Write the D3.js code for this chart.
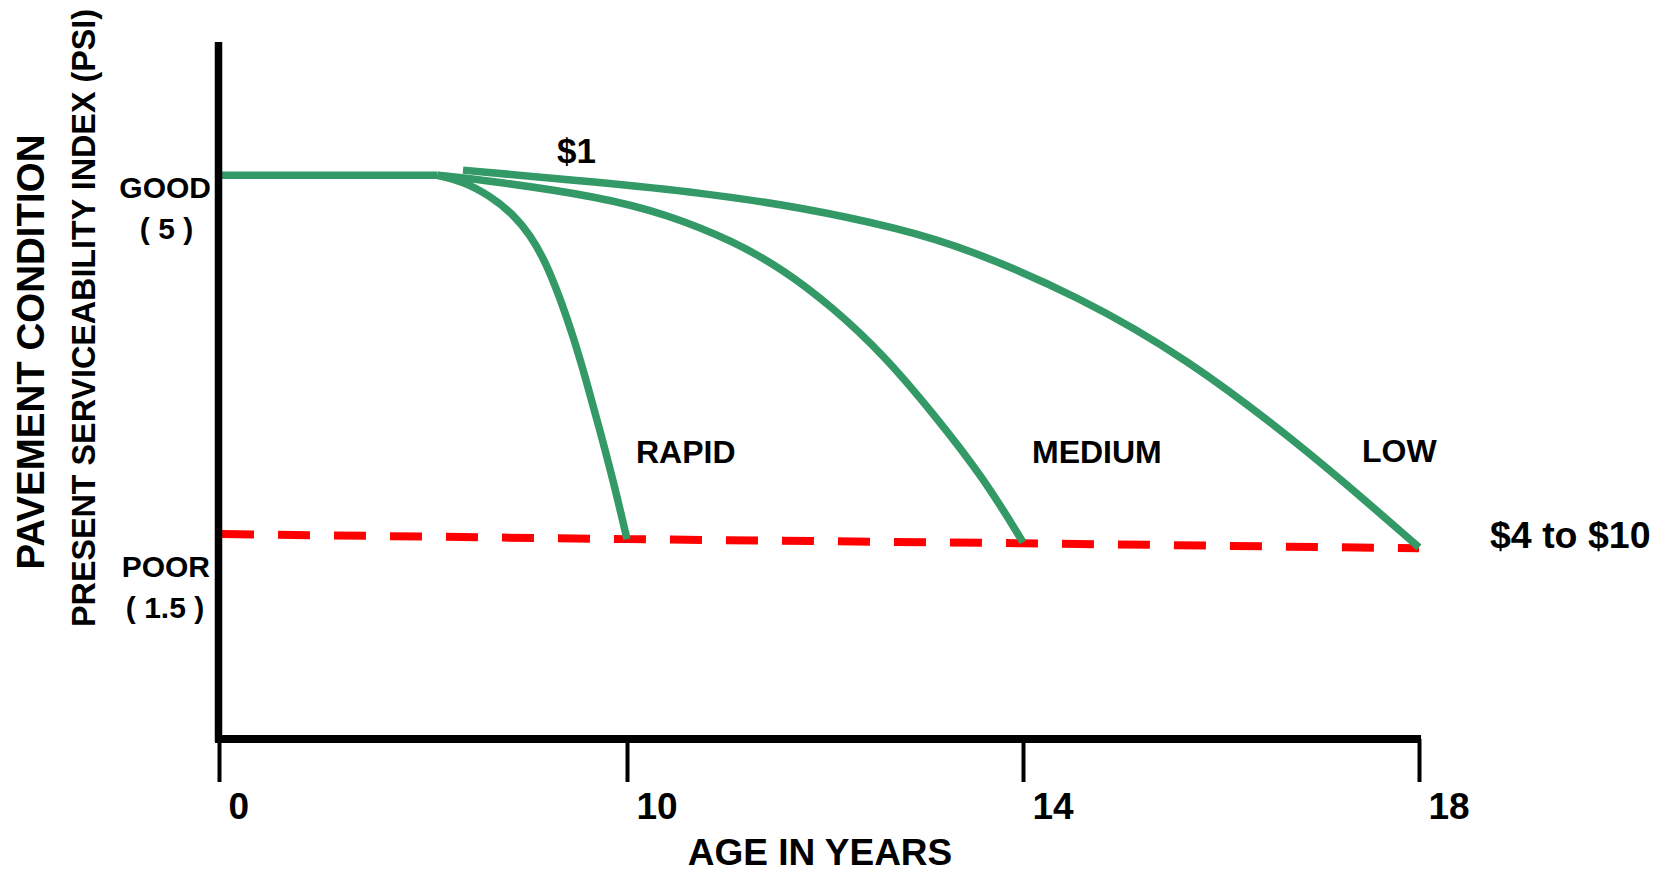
<!DOCTYPE html>
<html>
<head>
<meta charset="utf-8">
<script src="https://cdn.jsdelivr.net/npm/d3@7"></script>
<style>
  html, body { margin: 0; padding: 0; background: #ffffff; }
  svg { display: block; }
  text { font-family: "Liberation Sans", Arial, Helvetica, sans-serif; font-weight: bold; fill: #000; }
</style>
</head>
<body>
<svg id="chart" width="1669" height="873"></svg>
<script>
// Pavement deterioration: PSI vs. age, for three rates of deterioration.
const tickYears  = [0, 10, 14, 18];
const tickLabels = ["0", "10", "14", "18"];

// New pavement holds its condition before deteriorating
const flatYears = [0, 5.35];
const flatPSI   = [5.0, 5.0];

const rapidYears = [5.35, 5.98, 6.64, 7.21, 7.62, 8.00, 8.36, 8.68, 9.00, 9.33, 9.70, 10.0];
const rapidPSI   = [5.00, 4.94, 4.80, 4.62, 4.42, 4.16, 3.80, 3.43, 3.00, 2.52, 1.96, 1.45];

const mediumYears = [5.35, 6.57, 9.34, 10.40, 11.07, 11.58, 12.08, 12.59, 13.09, 13.60, 14.0];
const mediumPSI   = [5.00, 4.95, 4.79, 4.62, 4.36, 4.08, 3.71, 3.25, 2.68, 2.05, 1.42];

const lowYears = [5.98, 9.34, 10.74, 11.75, 12.76, 13.45, 14.56, 15.66, 16.76, 17.49, 18.0];
const lowPSI   = [5.05, 4.93, 4.83, 4.69, 4.48, 4.28, 3.82, 3.21, 2.40, 1.80, 1.37];

// Terminal serviceability (POOR) threshold
const poorYears = [0, 10, 14, 18];
const poorPSI   = [1.50, 1.45, 1.41, 1.36];

const conditionLabels = ["GOOD", "( 5 )", "POOR", "( 1.5 )"];
const rateLabels = ["RAPID", "MEDIUM", "LOW"];
const costLabels = ["$1", "$4 to $10"];
const xTitle = "AGE IN YEARS";
const yTitle1 = "PAVEMENT CONDITION";
const yTitle2 = "PRESENT SERVICEABILITY INDEX (PSI)";

const GREEN = "#339966";
const RED = "#ff0000";

const svg = d3.select("#chart");

// Age axis is compressed over the first 10 years
const x = d3.scaleLinear().domain(tickYears).range([219, 627, 1023, 1419]);
const y = d3.scaleLinear().domain([-0.5, 6.3]).range([739, 42]);

const zip = (xs, ys) => xs.map((v, i) => [v, ys[i]]);
const line = d3.line().x(d => x(d[0])).y(d => y(d[1])).curve(d3.curveBasis);
const straight = d3.line().x(d => x(d[0])).y(d => y(d[1]));

// Threshold line (dashed)
svg.append("path")
  .attr("d", straight(zip(poorYears, poorPSI)))
  .attr("fill", "none")
  .attr("stroke", RED)
  .attr("stroke-width", 8)
  .attr("stroke-dasharray", "32 24")
  .attr("stroke-dashoffset", 53);

// Deterioration curves
const curves = [zip(flatYears, flatPSI), zip(rapidYears, rapidPSI), zip(mediumYears, mediumPSI), zip(lowYears, lowPSI)];
svg.selectAll("path.curve").data(curves).enter().append("path")
  .attr("class", "curve")
  .attr("d", line)
  .attr("fill", "none")
  .attr("stroke", GREEN)
  .attr("stroke-width", 7.5)
  .attr("stroke-linejoin", "round");

// Axes
const xAxis = d3.axisBottom(x)
  .tickValues(tickYears)
  .tickFormat((d, i) => tickLabels[i])
  .tickSize(43)
  .tickSizeOuter(0)
  .tickPadding(0);

const gx = svg.append("g").attr("transform", `translate(0,${y(-0.5)})`).call(xAxis);
gx.select(".domain").attr("stroke", "#000").attr("stroke-width", 8)
  .attr("d", `M${x(0) - 4},0H${x(18) + 2}`);
gx.selectAll(".tick line").attr("stroke", "#000").attr("stroke-width", 4);
gx.selectAll(".tick text")
  .attr("text-anchor", "start")
  .attr("x", 9)
  .attr("y", 80)
  .attr("dy", null)
  .style("font-size", "37px")
  .style("font-family", "'Liberation Sans', Arial, sans-serif")
  .style("font-weight", "bold")
  .attr("fill", "#000");

const yAxis = d3.axisLeft(y).tickValues([]).tickSizeOuter(0);
const gy = svg.append("g").attr("transform", `translate(${x(0) - 0.5},0)`).call(yAxis);
gy.select(".domain").attr("stroke", "#000").attr("stroke-width", 7.5)
  .attr("d", `M0,${y(6.3)}V${y(-0.5) + 3}`);

// Axis titles
svg.append("text")
  .attr("x", 820).attr("y", 865)
  .attr("text-anchor", "middle")
  .style("font-size", "37px")
  .text(xTitle);

svg.append("text")
  .attr("transform", "translate(44,352) rotate(-90)")
  .attr("text-anchor", "middle")
  .style("font-size", "38.5px")
  .text(yTitle1);

svg.append("text")
  .attr("transform", "translate(95,318) rotate(-90)")
  .attr("text-anchor", "middle")
  .style("font-size", "32.3px")
  .text(yTitle2);

// Condition labels on the PSI axis
const condLayout = [
  { x: 211, y: 198, anchor: "end" },
  { x: 166.5, y: 239, anchor: "middle" },
  { x: 210, y: 577, anchor: "end" },
  { x: 165, y: 618, anchor: "middle" }
];
svg.selectAll("text.cond").data(conditionLabels).enter().append("text")
  .attr("class", "cond")
  .attr("x", (d, i) => condLayout[i].x)
  .attr("y", (d, i) => condLayout[i].y)
  .attr("text-anchor", (d, i) => condLayout[i].anchor)
  .style("font-size", "30px")
  .text(d => d);

// Rate labels beside each curve
const rateLayout = [{ x: 636, y: 463 }, { x: 1032, y: 463 }, { x: 1362, y: 462 }];
svg.selectAll("text.rate").data(rateLabels).enter().append("text")
  .attr("class", "rate")
  .attr("x", (d, i) => rateLayout[i].x)
  .attr("y", (d, i) => rateLayout[i].y)
  .style("font-size", "32px")
  .text(d => d);

// Relative rehabilitation costs
svg.append("text")
  .attr("x", 576.5).attr("y", 163)
  .attr("text-anchor", "middle")
  .style("font-size", "35px")
  .text(costLabels[0]);

svg.append("text")
  .attr("x", 1490).attr("y", 548)
  .style("font-size", "37.5px")
  .text(costLabels[1]);
</script>
</body>
</html>
